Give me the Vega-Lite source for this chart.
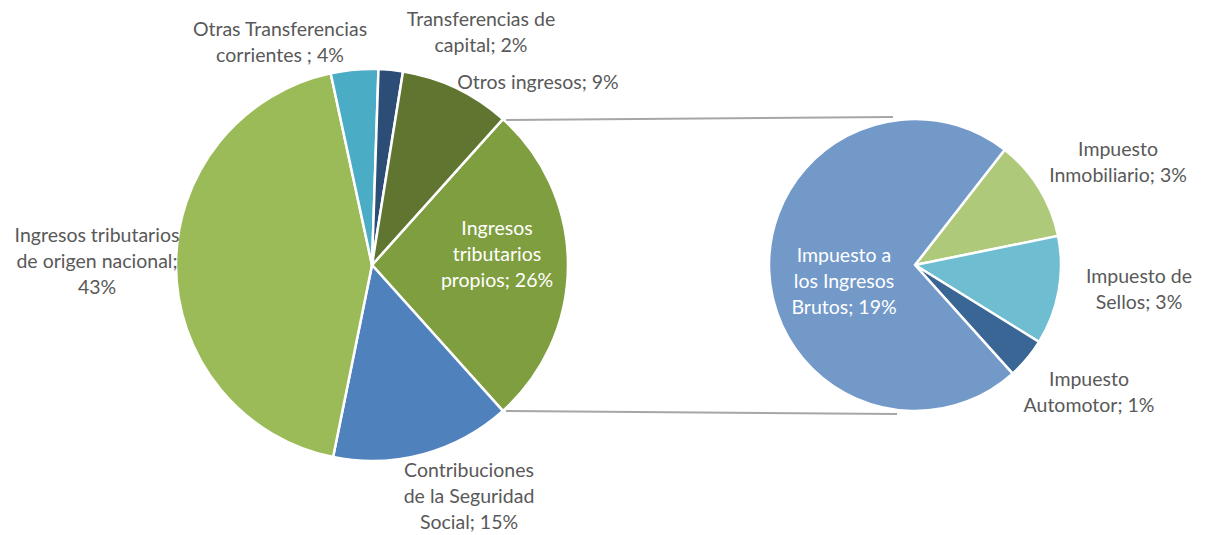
{
  "$schema": "https://vega.github.io/schema/vega-lite/v6.json",
  "width": 1213,
  "height": 535,
  "padding": 0,
  "autosize": {"type": "none"},
  "background": "white",
  "config": {"view": {"stroke": null}, "text": {"font": "Lato", "fontSize": 19.5, "lineHeight": 26, "lineBreak": "\n", "align": "center", "baseline": "middle", "color": "#595959"}},
  "datasets": {
    "total": [
      {"name": "Ingresos tributarios propios", "v": 26.7, "o": 1, "label": "Ingresos\ntributarios\npropios; 26%"},
      {"name": "Contribuciones de la Seguridad Social", "v": 14.8, "o": 2, "label": "Contribuciones\nde la Seguridad\nSocial; 15%"},
      {"name": "Ingresos tributarios de origen nacional", "v": 43.4, "o": 3, "label": "Ingresos tributarios\nde origen nacional;\n43%"},
      {"name": "Otras Transferencias corrientes", "v": 3.9, "o": 4, "label": "Otras Transferencias\ncorrientes ; 4%"},
      {"name": "Transferencias de capital", "v": 2.0, "o": 5, "label": "Transferencias de\ncapital; 2%"},
      {"name": "Otros ingresos", "v": 9.1, "o": 6, "label": "Otros ingresos; 9%"}
    ],
    "propios": [
      {"name": "Impuesto Inmobiliario", "v": 3.0, "o": 1, "label": "Impuesto\nInmobiliario; 3%"},
      {"name": "Impuesto de Sellos", "v": 3.2, "o": 2, "label": "Impuesto de\nSellos; 3%"},
      {"name": "Impuesto Automotor", "v": 1.2, "o": 3, "label": "Impuesto\nAutomotor; 1%"},
      {"name": "Impuesto a los Ingresos Brutos", "v": 19.2, "o": 4, "label": "Impuesto a\nlos Ingresos\nBrutos; 19%"}
    ]
  },
  "encoding": {
    "x": {"datum": 0, "type": "quantitative", "scale": {"domain": [0, 1213], "nice": false, "zero": false}, "axis": null},
    "y": {"datum": 0, "type": "quantitative", "scale": {"domain": [0, 535], "nice": false, "zero": false, "reverse": true}, "axis": null}
  },
  "resolve": {"scale": {"theta": "independent", "color": "independent"}},
  "layer": [
    {
      "data": {"values": [{}]},
      "mark": {"type": "rule", "color": "#a6a6a6", "strokeWidth": 2},
      "encoding": {"x": {"datum": 506}, "x2": {"datum": 893}, "y": {"datum": 120}, "y2": {"datum": 117}}
    },
    {
      "data": {"values": [{}]},
      "mark": {"type": "rule", "color": "#a6a6a6", "strokeWidth": 2},
      "encoding": {"x": {"datum": 506}, "x2": {"datum": 897}, "y": {"datum": 411}, "y2": {"datum": 414}}
    },
    {
      "data": {"name": "total"},
      "mark": {"type": "arc", "outerRadius": 196, "stroke": "white", "strokeWidth": 2.5},
      "encoding": {
        "x": {"datum": 372},
        "y": {"datum": 265},
        "theta": {"field": "v", "type": "quantitative", "stack": true, "scale": {"range": [0.7313, 7.0145]}},
        "order": {"field": "o", "type": "quantitative"},
        "color": {"field": "name", "type": "nominal", "legend": null, "scale": {
          "domain": ["Ingresos tributarios propios", "Contribuciones de la Seguridad Social", "Ingresos tributarios de origen nacional", "Otras Transferencias corrientes", "Transferencias de capital", "Otros ingresos"],
          "range": ["#7f9e3f", "#4f81bd", "#9bbb59", "#4bacc6", "#2c4d75", "#5f7530"]}}
      }
    },
    {
      "data": {"name": "propios"},
      "mark": {"type": "arc", "outerRadius": 146, "stroke": "white", "strokeWidth": 2.5},
      "encoding": {
        "x": {"datum": 915},
        "y": {"datum": 265},
        "theta": {"field": "v", "type": "quantitative", "stack": true, "scale": {"range": [0.6615, 6.9447]}},
        "order": {"field": "o", "type": "quantitative"},
        "color": {"field": "name", "type": "nominal", "legend": null, "scale": {
          "domain": ["Impuesto Inmobiliario", "Impuesto de Sellos", "Impuesto Automotor", "Impuesto a los Ingresos Brutos"],
          "range": ["#afc97a", "#6fbdd1", "#3a6696", "#7399c9"]}}
      }
    },
    {"data": {"name": "total"}, "transform": [{"filter": "datum.o == 1"}], "mark": {"type": "text", "color": "white"}, "encoding": {"x": {"datum": 497}, "y": {"datum": 229}, "text": {"field": "label"}}},
    {"data": {"name": "total"}, "transform": [{"filter": "datum.o == 2"}], "mark": {"type": "text"}, "encoding": {"x": {"datum": 469}, "y": {"datum": 471}, "text": {"field": "label"}}},
    {"data": {"name": "total"}, "transform": [{"filter": "datum.o == 3"}], "mark": {"type": "text"}, "encoding": {"x": {"datum": 97}, "y": {"datum": 236}, "text": {"field": "label"}}},
    {"data": {"name": "total"}, "transform": [{"filter": "datum.o == 4"}], "mark": {"type": "text"}, "encoding": {"x": {"datum": 280}, "y": {"datum": 30}, "text": {"field": "label"}}},
    {"data": {"name": "total"}, "transform": [{"filter": "datum.o == 5"}], "mark": {"type": "text"}, "encoding": {"x": {"datum": 481}, "y": {"datum": 20}, "text": {"field": "label"}}},
    {"data": {"name": "total"}, "transform": [{"filter": "datum.o == 6"}], "mark": {"type": "text"}, "encoding": {"x": {"datum": 538}, "y": {"datum": 83}, "text": {"field": "label"}}},
    {"data": {"name": "propios"}, "transform": [{"filter": "datum.o == 1"}], "mark": {"type": "text"}, "encoding": {"x": {"datum": 1118}, "y": {"datum": 150}, "text": {"field": "label"}}},
    {"data": {"name": "propios"}, "transform": [{"filter": "datum.o == 2"}], "mark": {"type": "text"}, "encoding": {"x": {"datum": 1139}, "y": {"datum": 277}, "text": {"field": "label"}}},
    {"data": {"name": "propios"}, "transform": [{"filter": "datum.o == 3"}], "mark": {"type": "text"}, "encoding": {"x": {"datum": 1089}, "y": {"datum": 380}, "text": {"field": "label"}}},
    {"data": {"name": "propios"}, "transform": [{"filter": "datum.o == 4"}], "mark": {"type": "text", "color": "white"}, "encoding": {"x": {"datum": 844}, "y": {"datum": 256}, "text": {"field": "label"}}}
  ]
}
